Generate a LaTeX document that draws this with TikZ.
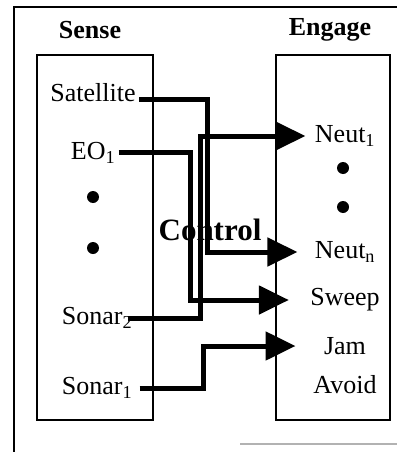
\documentclass[tikz,border=0pt]{standalone}
\usepackage{fontspec}
\setmainfont{Liberation Serif}
\usetikzlibrary{arrows.meta,positioning,calc}

\tikzset{
  lbl/.style={font=\fontsize{26}{30}\selectfont},
  ttl/.style={font=\fontsize{26}{30}\selectfont\bfseries},
  panel/.style={draw, line width=2.5pt},
  flow/.style={line width=5pt, -{Triangle[length=30pt,width=28pt]}},
  blob/.style={circle, fill, inner sep=0pt, minimum size=12pt}
}

\begin{document}
\begin{tikzpicture}[x=1pt,y=-1pt]
    \useasboundingbox (0,0) rectangle (397,452);

    % Outer frame
    \draw[line width=2pt] (14,452) -- (14,7) -- (397,7);
    \draw[line width=1.5pt, black!30] (240,444) -- (397,444);

    % Panels
    \draw[panel] (37,55) rectangle (153,420);
    \draw[panel] (276,55) rectangle (390,420);
    \node[ttl] (sense) at (90,30) {Sense};
    \node[ttl] (engage) at (330,30) {Engage};

    % Sensors
    \node[lbl] (sat) at (93,93) {Satellite};
    \node[lbl] (eo) at (93,153) {EO\textsubscript{1}};
    \node[blob] (ldotA) at (93,197) {};
    \node[blob] (ldotB) at (93,248) {};
    \node[lbl] (sonB) at (97,318) {Sonar\textsubscript{2}};
    \node[lbl] (sonA) at (97,388) {Sonar\textsubscript{1}};

    % Actions
    \node[lbl] (neutA) at (345,136) {Neut\textsubscript{1}};
    \node[blob] (rdotA) at (343,168) {};
    \node[blob] (rdotB) at (343,207) {};
    \node[lbl] (neutN) at (345,252) {Neut\textsubscript{n}};
    \node[lbl] (sweep) at (345,300) {Sweep};
    \node[lbl] (jam) at (345,346) {Jam};
    \node[lbl] (avoid) at (345,385) {Avoid};

    % Control layer
    \node[font=\fontsize{31}{34}\selectfont\bfseries] (ctl) at (210,230) {Control};
    \coordinate (busSat) at (207,0);
    \coordinate (busSon) at (200,0);
    \coordinate (busEo) at (190,0);
    \coordinate (busJam) at (203,0);

    % Routing
    \draw[flow] ([yshift=-6pt]sat.east) -| (busSat |- neutN.west) -- ([xshift=-14pt]neutN.west);
    \draw[flow] ([xshift=-8pt]sonB.east) -| (busSon |- neutA.west) -- ([xshift=-6pt]neutA.west);
    \draw[flow] ([yshift=1pt]eo.east) -| (busEo |- sweep.west) -- ([xshift=-18pt]sweep.west);
    \draw[flow] ([xshift=4pt]sonA.east) -| (busJam |- jam.west) -- ([xshift=-25pt]jam.west);
\end{tikzpicture}
\end{document}
